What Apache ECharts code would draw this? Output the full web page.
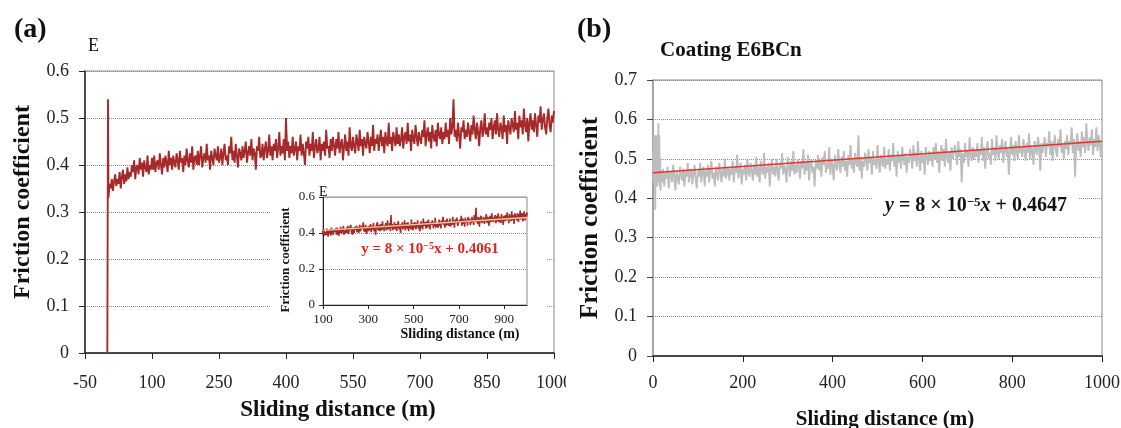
<!DOCTYPE html>
<html>
<head>
<meta charset="utf-8">
<script src="https://cdn.jsdelivr.net/npm/echarts@6/dist/echarts.min.js"></script>
<style>
html,body{margin:0;padding:0;background:#fff;width:1121px;height:428px;overflow:hidden;}
#a{position:absolute;left:0;top:0;width:566px;height:428px;}
#b{position:absolute;left:566px;top:0;width:555px;height:428px;}
</style>
</head>
<body>
<div id="a"></div>
<div id="b"></div>
<script>
// ---------- Panel (a): coating E ----------
const xTicksA = [-50, 100, 250, 400, 550, 700, 850, 1000];
const yTicksA = [0, 0.1, 0.2, 0.3, 0.4, 0.5, 0.6];
const xTicksInset = [100, 300, 500, 700, 900];
const yTicksInset = [0, 0.2, 0.4, 0.6];
const distHeadA = [0, 1.5];
const fricHeadA = [0.00, 0.54];
const startA = 2.5, stepA = 2.5;
const fricA = [
  0.33, 0.36, 0.35, 0.37, 0.345, 0.365, 0.38, 0.355, 0.37, 0.36, 0.385, 0.35, 0.375, 0.39, 0.36, 0.38, 0.365, 0.395, 0.37, 0.385,
  0.375, 0.40, 0.385, 0.41, 0.37, 0.395, 0.40, 0.38, 0.415, 0.39, 0.405, 0.375, 0.41, 0.395, 0.385, 0.42, 0.38, 0.40, 0.39, 0.415,
  0.39, 0.42, 0.385, 0.405, 0.41, 0.39, 0.425, 0.40, 0.38, 0.415, 0.395, 0.42, 0.405, 0.385, 0.43, 0.40, 0.415, 0.39, 0.42, 0.405,
  0.395, 0.425, 0.41, 0.39, 0.43, 0.405, 0.415, 0.385, 0.42, 0.40, 0.435, 0.41, 0.395, 0.425, 0.405, 0.44, 0.39, 0.415, 0.42, 0.40,
  0.43, 0.40, 0.42, 0.44, 0.395, 0.415, 0.425, 0.405, 0.445, 0.41, 0.42, 0.39, 0.43, 0.415, 0.40, 0.435, 0.42, 0.41, 0.44, 0.405,
  0.415, 0.435, 0.40, 0.425, 0.445, 0.41, 0.42, 0.40, 0.44, 0.425, 0.46, 0.41, 0.43, 0.405, 0.445, 0.42, 0.395, 0.435, 0.425, 0.41,
  0.44, 0.415, 0.43, 0.45, 0.405, 0.425, 0.44, 0.42, 0.455, 0.41, 0.435, 0.425, 0.39, 0.44, 0.43, 0.46, 0.415, 0.42, 0.445, 0.41,
  0.435, 0.45, 0.415, 0.43, 0.465, 0.42, 0.44, 0.41, 0.445, 0.43, 0.455, 0.415, 0.435, 0.47, 0.42, 0.44, 0.425, 0.455, 0.41, 0.50,
  0.43, 0.45, 0.415, 0.44, 0.425, 0.46, 0.42, 0.435, 0.45, 0.41, 0.44, 0.43, 0.465, 0.42, 0.445, 0.425, 0.40, 0.45, 0.435, 0.46,
  0.42, 0.445, 0.43, 0.47, 0.415, 0.44, 0.455, 0.425, 0.435, 0.46, 0.41, 0.445, 0.43, 0.45, 0.42, 0.475, 0.435, 0.44, 0.415, 0.455,
  0.43, 0.46, 0.44, 0.42, 0.455, 0.435, 0.47, 0.425, 0.445, 0.455, 0.41, 0.44, 0.465, 0.43, 0.45, 0.42, 0.48, 0.44, 0.43, 0.46,
  0.44, 0.425, 0.465, 0.45, 0.43, 0.475, 0.44, 0.455, 0.42, 0.46, 0.445, 0.435, 0.47, 0.45, 0.425, 0.46, 0.44, 0.485, 0.43, 0.455,
  0.445, 0.465, 0.43, 0.455, 0.475, 0.44, 0.46, 0.425, 0.47, 0.45, 0.44, 0.49, 0.445, 0.46, 0.43, 0.47, 0.455, 0.44, 0.48, 0.445,
  0.465, 0.44, 0.455, 0.48, 0.435, 0.46, 0.47, 0.445, 0.49, 0.45, 0.465, 0.43, 0.475, 0.455, 0.445, 0.485, 0.46, 0.44, 0.47, 0.455,
  0.445, 0.475, 0.46, 0.495, 0.44, 0.465, 0.48, 0.45, 0.47, 0.435, 0.485, 0.46, 0.45, 0.475, 0.44, 0.49, 0.465, 0.455, 0.48, 0.445,
  0.47, 0.455, 0.49, 0.46, 0.475, 0.445, 0.50, 0.465, 0.48, 0.54, 0.46, 0.475, 0.45, 0.49, 0.465, 0.435, 0.48, 0.47, 0.495, 0.455,
  0.475, 0.46, 0.49, 0.47, 0.45, 0.485, 0.465, 0.505, 0.475, 0.455, 0.49, 0.47, 0.44, 0.48, 0.495, 0.46, 0.475, 0.51, 0.465, 0.48,
  0.46, 0.49, 0.475, 0.50, 0.455, 0.48, 0.495, 0.465, 0.51, 0.475, 0.46, 0.49, 0.48, 0.455, 0.505, 0.47, 0.485, 0.445, 0.495, 0.48,
  0.465, 0.50, 0.485, 0.47, 0.515, 0.475, 0.49, 0.455, 0.505, 0.48, 0.495, 0.465, 0.52, 0.485, 0.47, 0.50, 0.45, 0.49, 0.51, 0.475,
  0.495, 0.47, 0.51, 0.485, 0.46, 0.505, 0.49, 0.525, 0.475, 0.495, 0.51, 0.48, 0.465, 0.50, 0.52, 0.485, 0.47, 0.505, 0.49, 0.515
];
const trendAx = [100, 1000];
const trendAy = [0.4141, 0.4861];

// ---------- Panel (b): coating E6BCn ----------
const xTicksB = [0, 200, 400, 600, 800, 1000];
const yTicksB = [0, 0.1, 0.2, 0.3, 0.4, 0.5, 0.6, 0.7];
const distHeadB = [0, 1, 2, 3, 4, 5, 6, 7, 8, 9, 10, 11, 12, 13, 14, 15, 16, 17, 18];
const fricHeadB = [0.52, 0.44, 0.56, 0.45, 0.55, 0.37, 0.56, 0.44, 0.55, 0.43, 0.56, 0.45, 0.59, 0.44, 0.56, 0.43, 0.50, 0.42, 0.47];
const startB = 20, stepB = 2.5;
const fricB = [
  0.44, 0.475, 0.43, 0.465, 0.45, 0.48, 0.425, 0.46, 0.47, 0.44, 0.485, 0.455, 0.42, 0.47, 0.45, 0.435, 0.48, 0.46, 0.445, 0.475,
  0.43, 0.47, 0.455, 0.49, 0.44, 0.465, 0.475, 0.435, 0.46, 0.485, 0.45, 0.425, 0.47, 0.455, 0.49, 0.44, 0.465, 0.48, 0.43, 0.47,
  0.455, 0.485, 0.44, 0.47, 0.495, 0.45, 0.465, 0.43, 0.48, 0.46, 0.445, 0.49, 0.47, 0.44, 0.475, 0.455, 0.50, 0.45, 0.465, 0.48,
  0.445, 0.475, 0.46, 0.495, 0.44, 0.48, 0.465, 0.51, 0.45, 0.47, 0.49, 0.435, 0.475, 0.46, 0.485, 0.445, 0.50, 0.465, 0.455, 0.49,
  0.47, 0.445, 0.485, 0.46, 0.505, 0.455, 0.48, 0.44, 0.495, 0.47, 0.46, 0.515, 0.45, 0.48, 0.465, 0.49, 0.43, 0.475, 0.50, 0.46,
  0.48, 0.455, 0.50, 0.47, 0.445, 0.49, 0.475, 0.515, 0.46, 0.485, 0.47, 0.44, 0.505, 0.48, 0.455, 0.495, 0.47, 0.52, 0.46, 0.485,
  0.465, 0.50, 0.48, 0.45, 0.495, 0.475, 0.525, 0.46, 0.49, 0.47, 0.51, 0.445, 0.485, 0.50, 0.465, 0.48, 0.43, 0.495, 0.475, 0.51,
  0.47, 0.495, 0.455, 0.505, 0.485, 0.52, 0.465, 0.49, 0.475, 0.53, 0.46, 0.50, 0.48, 0.445, 0.51, 0.485, 0.47, 0.525, 0.49, 0.465,
  0.505, 0.48, 0.52, 0.47, 0.495, 0.455, 0.51, 0.485, 0.535, 0.475, 0.50, 0.465, 0.515, 0.49, 0.48, 0.56, 0.47, 0.505, 0.45, 0.495,
  0.48, 0.515, 0.495, 0.47, 0.525, 0.49, 0.505, 0.46, 0.52, 0.485, 0.50, 0.475, 0.535, 0.49, 0.465, 0.51, 0.495, 0.48, 0.53, 0.475,
  0.50, 0.485, 0.525, 0.47, 0.51, 0.495, 0.54, 0.48, 0.505, 0.455, 0.52, 0.49, 0.51, 0.475, 0.53, 0.50, 0.485, 0.515, 0.465, 0.505,
  0.49, 0.525, 0.505, 0.475, 0.535, 0.495, 0.515, 0.48, 0.545, 0.50, 0.47, 0.52, 0.49, 0.51, 0.46, 0.53, 0.505, 0.485, 0.52, 0.495,
  0.515, 0.48, 0.53, 0.50, 0.54, 0.49, 0.52, 0.465, 0.51, 0.535, 0.495, 0.525, 0.48, 0.55, 0.505, 0.49, 0.52, 0.47, 0.53, 0.50,
  0.495, 0.535, 0.51, 0.485, 0.545, 0.505, 0.525, 0.44, 0.515, 0.49, 0.54, 0.505, 0.52, 0.48, 0.555, 0.51, 0.495, 0.53, 0.50, 0.52,
  0.505, 0.54, 0.49, 0.525, 0.51, 0.555, 0.495, 0.53, 0.475, 0.52, 0.545, 0.50, 0.515, 0.485, 0.55, 0.51, 0.53, 0.495, 0.56, 0.515,
  0.50, 0.535, 0.515, 0.55, 0.49, 0.525, 0.545, 0.505, 0.53, 0.46, 0.52, 0.555, 0.51, 0.535, 0.495, 0.545, 0.52, 0.50, 0.56, 0.515,
  0.53, 0.505, 0.55, 0.52, 0.495, 0.54, 0.515, 0.565, 0.50, 0.535, 0.52, 0.485, 0.545, 0.525, 0.51, 0.555, 0.53, 0.47, 0.54, 0.515,
  0.52, 0.555, 0.505, 0.54, 0.53, 0.57, 0.51, 0.545, 0.495, 0.535, 0.56, 0.52, 0.505, 0.55, 0.53, 0.575, 0.515, 0.54, 0.50, 0.545,
  0.525, 0.56, 0.51, 0.545, 0.535, 0.58, 0.515, 0.55, 0.455, 0.535, 0.565, 0.52, 0.545, 0.505, 0.57, 0.53, 0.555, 0.515, 0.59, 0.54,
  0.52, 0.555, 0.535, 0.575, 0.51, 0.55, 0.53, 0.58, 0.52, 0.56, 0.54, 0.505, 0.55
];
const trendBx = [0, 1000];
const trendBy = [0.4647, 0.5447];

// ---------- build ----------
const SERIF = "'Liberation Serif', 'DejaVu Serif', serif";
const dataA = distHeadA.map((x, i) => [x, fricHeadA[i]])
  .concat(fricA.map((v, i) => [startA + i * stepA, v]));
const dataB = distHeadB.map((x, i) => [x, fricHeadB[i]])
  .concat(fricB.map((v, i) => [startB + i * stepB, v]));
const trendA = trendAx.map((x, i) => [x, trendAy[i]]);
const trendB = trendBx.map((x, i) => [x, trendBy[i]]);

function ax(ticks) {
  return { min: ticks[0], max: ticks[ticks.length - 1], interval: +(ticks[1] - ticks[0]).toFixed(6) };
}
const plain = v => String(+v.toFixed(4));
const dotted = { show: true, lineStyle: { type: 'dotted', color: '#8c8c8c', width: 1 } };

const chartA = echarts.init(document.getElementById('a'), null, { renderer: 'canvas' });
chartA.setOption({
  animation: false,
  grid: [
    { left: 85, right: 12, top: 71, bottom: 75, show: true, borderColor: '#8a8a8a', borderWidth: 1, outerBoundsMode: 'none', containLabel: false },
    { left: 323, right: 39, top: 197, bottom: 123, show: true, borderColor: '#8a8a8a', borderWidth: 1, z: 4, outerBoundsMode: 'none', containLabel: false }
  ],
  xAxis: [
    Object.assign({
      type: 'value', gridIndex: 0,
      name: 'Sliding distance (m)', nameLocation: 'middle', nameGap: 46,
      nameTextStyle: { fontFamily: SERIF, fontWeight: 'bold', fontSize: 23, color: '#111', padding: [0, 0, 0, 37] },
      axisLine: { onZero: false, lineStyle: { color: '#222', width: 1.5 } },
      axisTick: { show: true, inside: false, length: 6, lineStyle: { color: '#222' } },
      axisLabel: { fontFamily: SERIF, fontSize: 18, color: '#222', margin: 21, formatter: plain },
      splitLine: { show: false }
    }, ax(xTicksA)),
    Object.assign({
      type: 'value', gridIndex: 1, z: 4,
      name: 'Sliding distance (m)', nameLocation: 'middle', nameGap: 22,
      nameTextStyle: { fontFamily: SERIF, fontWeight: 'bold', fontSize: 14, color: '#111', padding: [0, 0, 0, 70] },
      axisLine: { onZero: false, lineStyle: { color: '#222', width: 1 } },
      axisTick: { show: true, length: 4, lineStyle: { color: '#222' } },
      axisLabel: { fontFamily: SERIF, fontSize: 13, color: '#222', margin: 8, showMaxLabel: false, formatter: plain },
      splitLine: { show: false }
    }, { min: xTicksInset[0], max: 1000, interval: xTicksInset[1] - xTicksInset[0] })
  ],
  yAxis: [
    Object.assign({
      type: 'value', gridIndex: 0,
      name: 'Friction coefficient', nameLocation: 'middle', nameGap: 50,
      nameTextStyle: { fontFamily: SERIF, fontWeight: 'bold', fontSize: 24, color: '#111', padding: [0, 0, 0, 20] },
      axisLine: { show: true, onZero: false, lineStyle: { color: '#222', width: 1.5 } },
      axisTick: { show: true, length: 6, lineStyle: { color: '#222' } },
      axisLabel: { fontFamily: SERIF, fontSize: 18, color: '#222', margin: 16, formatter: plain },
      splitLine: dotted
    }, ax(yTicksA)),
    Object.assign({
      type: 'value', gridIndex: 1, z: 4,
      name: 'Friction coefficient', nameLocation: 'middle', nameGap: 31,
      nameTextStyle: { fontFamily: SERIF, fontWeight: 'bold', fontSize: 13, color: '#111', padding: [0, 18, 0, 0] },
      axisLine: { show: true, onZero: false, lineStyle: { color: '#222', width: 1 } },
      axisTick: { show: true, length: 4, lineStyle: { color: '#222' } },
      axisLabel: { fontFamily: SERIF, fontSize: 13, color: '#222', margin: 8, formatter: plain },
      splitLine: dotted
    }, ax(yTicksInset))
  ],
  series: [
    { type: 'line', name: 'E', xAxisIndex: 0, yAxisIndex: 0, data: dataA, showSymbol: false,
      lineStyle: { color: '#a72a2a', width: 1.9 }, z: 2 },
    { type: 'line', name: 'E inset', xAxisIndex: 1, yAxisIndex: 1, data: dataA, showSymbol: false,
      lineStyle: { color: '#a72a2a', width: 1.6 }, z: 5 },
    { type: 'line', name: 'Linear fit E', xAxisIndex: 1, yAxisIndex: 1, data: trendA, showSymbol: false,
      lineStyle: { color: '#e8cc9c', width: 1.3 }, z: 6 }
  ],
  graphic: [
    { type: 'rect', shape: { x: 270, y: 178, width: 277, height: 164 }, style: { fill: '#fff' }, z: 3, silent: true },
    { type: 'text', x: 14, y: 16, z: 10, style: { text: '(a)', font: "bold 28px 'Liberation Serif'", fill: '#111' } },
    { type: 'text', x: 88, y: 37, z: 10, style: { text: 'E', font: "18px 'Liberation Serif'", fill: '#111' } },
    { type: 'text', x: 319, y: 185, z: 10, style: { text: 'E', font: "14px 'Liberation Serif'", fill: '#111' } },
    { type: 'text', x: 430, y: 251, z: 8,
      style: {
        text: 'y = 8 × 10{sup|−5}x + 0.4061',
        font: "bold 15px 'Liberation Serif'", fill: '#e0231c',
        align: 'center', verticalAlign: 'middle',
        backgroundColor: '#fff', padding: [6, 4, 10, 4],
        rich: { sup: { fontSize: 10, fontWeight: 'bold', verticalAlign: 'top', fill: '#e0231c', fontFamily: 'Liberation Serif' } }
      } }
  ]
});

const chartB = echarts.init(document.getElementById('b'), null, { renderer: 'canvas' });
chartB.setOption({
  animation: false,
  grid: { left: 87, right: 19, top: 80, bottom: 72, show: true, borderColor: '#8a8a8a', borderWidth: 1, outerBoundsMode: 'none', containLabel: false },
  xAxis: Object.assign({
    type: 'value',
    name: 'Sliding distance (m)', nameLocation: 'middle', nameGap: 53,
    nameTextStyle: { fontFamily: SERIF, fontWeight: 'bold', fontSize: 21, color: '#111', padding: [0, 0, 0, 15] },
    axisLine: { onZero: false, lineStyle: { color: '#222', width: 1.5 } },
    axisTick: { show: true, length: 6, lineStyle: { color: '#222' } },
    axisLabel: { fontFamily: SERIF, fontSize: 18, color: '#222', margin: 18, formatter: plain },
    splitLine: { show: false }
  }, ax(xTicksB)),
  yAxis: Object.assign({
    type: 'value',
    name: 'Friction coefficient', nameLocation: 'middle', nameGap: 50,
    nameTextStyle: { fontFamily: SERIF, fontWeight: 'bold', fontSize: 25, color: '#111' },
    axisLine: { show: true, onZero: false, lineStyle: { color: '#999', width: 1.5 } },
    axisTick: { show: true, length: 6, lineStyle: { color: '#444' } },
    axisLabel: { fontFamily: SERIF, fontSize: 18, color: '#222', margin: 16, formatter: plain },
    splitLine: dotted
  }, ax(yTicksB)),
  series: [
    { type: 'line', name: 'E6BCn', data: dataB, showSymbol: false,
      lineStyle: { color: '#bdbdbd', width: 1.9 }, z: 2 },
    { type: 'line', name: 'Linear fit E6BCn', data: trendB, showSymbol: false,
      lineStyle: { color: '#e3342b', width: 1.5 }, z: 3 }
  ],
  graphic: [
    { type: 'text', x: 11, y: 16, z: 10, style: { text: '(b)', font: "bold 28px 'Liberation Serif'", fill: '#111' } },
    { type: 'text', x: 94, y: 40, z: 10, style: { text: 'Coating E6BCn', font: "bold 21px 'Liberation Serif'", fill: '#111' } },
    { type: 'text', x: 410, y: 208, z: 8,
      style: {
        text: '{i|y} = 8 × 10{sup|−5}{i|x} + 0.4647',
        font: "bold 20px 'Liberation Serif'", fill: '#111',
        align: 'center', verticalAlign: 'middle',
        backgroundColor: '#fff', padding: [8, 12, 12, 12],
        rich: {
          i: { fontStyle: 'italic', fontWeight: 'bold', fontSize: 20, fontFamily: 'Liberation Serif', fill: '#111' },
          sup: { fontSize: 13, fontWeight: 'bold', verticalAlign: 'top', fontFamily: 'Liberation Serif', fill: '#111' }
        }
      } }
  ]
});
</script>
</body>
</html>
